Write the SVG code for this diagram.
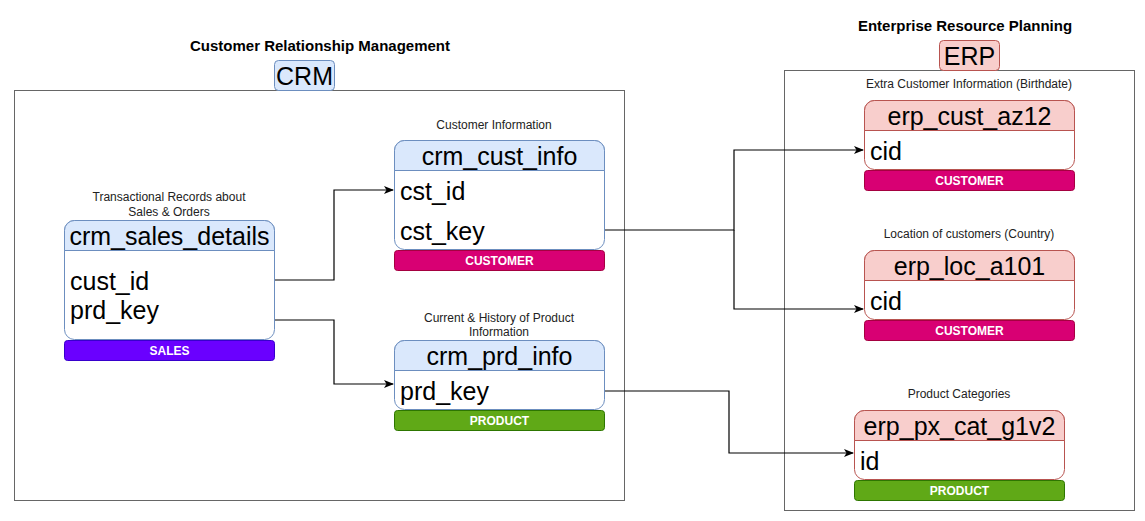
<svg xmlns="http://www.w3.org/2000/svg" width="1145" height="521" viewBox="0 0 1145 521">
<defs>
<marker id="arr" viewBox="0 0 10 10" refX="9" refY="5" markerWidth="10" markerHeight="10" markerUnits="userSpaceOnUse" orient="auto">
<path d="M0,1 L10,5 L0,9 L2.5,5 Z" fill="#000"/>
</marker>
<style>
.container{fill:#fff;stroke:#666;stroke-width:1}
.title{font-family:"Liberation Sans",Arial,sans-serif;font-size:15px;font-weight:bold;fill:#000;text-anchor:middle}
.big{font-family:"Liberation Sans",Arial,sans-serif;font-size:25px;fill:#000}
.mid{text-anchor:middle}
.lbl{font-family:"Liberation Sans",Arial,sans-serif;font-size:12px;fill:#222;text-anchor:middle}
.bartxt{font-family:"Liberation Sans",Arial,sans-serif;font-size:12px;font-weight:bold;fill:#fff;text-anchor:middle}
.bodyB{fill:#fff;stroke:#6c8ebf;stroke-width:1}
.headB{fill:#dae8fc;stroke:#6c8ebf;stroke-width:1}
.bodyR{fill:#fff;stroke:#b85450;stroke-width:1}
.headR{fill:#f8cecc;stroke:#b85450;stroke-width:1}
.cust{fill:#d80073;stroke:#a50040;stroke-width:1}
.sales{fill:#6a00ff;stroke:#3700cc;stroke-width:1}
.prod{fill:#60a917;stroke:#2d7600;stroke-width:1}
.conn{fill:none;stroke:#000;stroke-width:1.2}
</style>
</defs>
<rect width="1145" height="521" fill="#fff"/>

<g id="crm-group">
<rect class="container" x="14.5" y="90.5" width="610" height="410"/>
<text class="title" x="320" y="51">Customer Relationship Management</text>
<rect class="headB" x="274.5" y="60.5" width="60" height="30" rx="4"/>
<text class="big mid" x="304.5" y="85">CRM</text>
</g>

<g id="erp-group">
<rect class="container" x="784.5" y="70.5" width="350" height="440"/>
<text class="title" x="965" y="31">Enterprise Resource Planning</text>
<rect class="headR" x="939.5" y="40.5" width="60" height="30" rx="4"/>
<text class="big mid" x="969.5" y="65">ERP</text>
</g>

<g id="connectors">
<polyline class="conn" points="275,280 334,280 334,190 393,190" marker-end="url(#arr)"/>
<polyline class="conn" points="275,320 334,320 334,384 393,384" marker-end="url(#arr)"/>
<polyline class="conn" points="605,230 734,230 734,150 863,150" marker-end="url(#arr)"/>
<polyline class="conn" points="734,230 734,309 863,309" marker-end="url(#arr)"/>
<polyline class="conn" points="605,391 729,391 729,453 853,453" marker-end="url(#arr)"/>
</g>

<g id="crm_sales_details">
<text class="lbl" x="169" y="201">Transactional Records about</text>
<text class="lbl" x="169" y="216">Sales &amp; Orders</text>
<rect class="bodyB" x="64.5" y="220.5" width="210" height="119" rx="10"/>
<path class="headB" d="M64.5,250.5 V230.5 A10,10 0 0 1 74.5,220.5 H264.5 A10,10 0 0 1 274.5,230.5 V250.5 Z"/>
<text class="big mid" x="169.5" y="245">crm_sales_details</text>
<text class="big" x="70" y="290">cust_id</text>
<text class="big" x="70" y="319">prd_key</text>
<rect class="sales" x="64.5" y="340.5" width="210" height="20" rx="3"/>
<text class="bartxt" x="169.5" y="355">SALES</text>
</g>

<g id="crm_cust_info">
<text class="lbl" x="494" y="129">Customer Information</text>
<rect class="bodyB" x="394.5" y="140.5" width="210" height="109" rx="10"/>
<path class="headB" d="M394.5,170.5 V150.5 A10,10 0 0 1 404.5,140.5 H594.5 A10,10 0 0 1 604.5,150.5 V170.5 Z"/>
<text class="big mid" x="499.5" y="165">crm_cust_info</text>
<text class="big" x="400" y="200">cst_id</text>
<text class="big" x="400" y="240">cst_key</text>
<rect class="cust" x="394.5" y="250.5" width="210" height="20" rx="3"/>
<text class="bartxt" x="499.5" y="264.5">CUSTOMER</text>
</g>

<g id="crm_prd_info">
<text class="lbl" x="499" y="322">Current &amp; History of Product</text>
<text class="lbl" x="499" y="336">Information</text>
<rect class="bodyB" x="394.5" y="340.5" width="210" height="69" rx="10"/>
<path class="headB" d="M394.5,370.5 V350.5 A10,10 0 0 1 404.5,340.5 H594.5 A10,10 0 0 1 604.5,350.5 V370.5 Z"/>
<text class="big mid" x="499.5" y="365">crm_prd_info</text>
<text class="big" x="400" y="400">prd_key</text>
<rect class="prod" x="394.5" y="410.5" width="210" height="20" rx="3"/>
<text class="bartxt" x="499.5" y="424.5">PRODUCT</text>
</g>

<g id="erp_cust_az12">
<text class="lbl" x="969" y="88">Extra Customer Information (Birthdate)</text>
<rect class="bodyR" x="864.5" y="100.5" width="210" height="69" rx="10"/>
<path class="headR" d="M864.5,130.5 V110.5 A10,10 0 0 1 874.5,100.5 H1064.5 A10,10 0 0 1 1074.5,110.5 V130.5 Z"/>
<text class="big mid" x="969.5" y="125">erp_cust_az12</text>
<text class="big" x="870" y="160">cid</text>
<rect class="cust" x="864.5" y="170.5" width="210" height="20" rx="3"/>
<text class="bartxt" x="969.5" y="184.5">CUSTOMER</text>
</g>

<g id="erp_loc_a101">
<text class="lbl" x="969" y="238">Location of customers (Country)</text>
<rect class="bodyR" x="864.5" y="250.5" width="210" height="69" rx="10"/>
<path class="headR" d="M864.5,280.5 V260.5 A10,10 0 0 1 874.5,250.5 H1064.5 A10,10 0 0 1 1074.5,260.5 V280.5 Z"/>
<text class="big mid" x="969.5" y="275">erp_loc_a101</text>
<text class="big" x="870" y="310">cid</text>
<rect class="cust" x="864.5" y="320.5" width="210" height="20" rx="3"/>
<text class="bartxt" x="969.5" y="334.5">CUSTOMER</text>
</g>

<g id="erp_px_cat_g1v2">
<text class="lbl" x="959" y="398">Product Categories</text>
<rect class="bodyR" x="854.5" y="410.5" width="210" height="69" rx="10"/>
<path class="headR" d="M854.5,440.5 V420.5 A10,10 0 0 1 864.5,410.5 H1054.5 A10,10 0 0 1 1064.5,420.5 V440.5 Z"/>
<text class="big mid" x="959.5" y="435">erp_px_cat_g1v2</text>
<text class="big" x="860" y="470">id</text>
<rect class="prod" x="854.5" y="480.5" width="210" height="20" rx="3"/>
<text class="bartxt" x="959.5" y="494.5">PRODUCT</text>
</g>
</svg>
